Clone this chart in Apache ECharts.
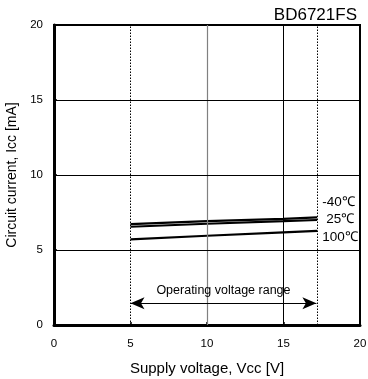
<!DOCTYPE html>
<html><head><meta charset="utf-8">
<script src="https://cdn.jsdelivr.net/npm/echarts@6/dist/echarts.min.js"></script>
<style>html,body{margin:0;padding:0;background:#fff}#c{width:368px;height:379px}</style>
</head><body><div id="c"></div>
<script>
const title = 'BD6721FS';
const xName = 'Supply voltage, Vcc [V]';
const yName = 'Circuit current, Icc [mA]';
const vcc = [5, 10, 15, 17.2];
const seriesNames = ['-40℃', '25℃', '100℃'];
const iccM40 = [6.73, 6.92, 7.08, 7.18];
const icc25 = [6.55, 6.75, 6.92, 7.0];
const icc100 = [5.71, 5.95, 6.17, 6.27];
const rangeMin = 5, rangeMax = 17.2, arrowY = 1.45;
const rangeText = 'Operating voltage range';
const hLines = [5, 10, 15];

const font = 'Liberation Sans, Arial, sans-serif';
const labelOffsets = [[2, -15], [6, -1], [2, 6]];
function mk(vals, i) {
  return {
    type: 'line', name: seriesNames[i], symbol: 'none', silent: true,
    lineStyle: { color: '#000', width: 2.2 },
    endLabel: {
      show: true, formatter: seriesNames[i], distance: 3,
      offset: labelOffsets[i], color: '#000', fontSize: 13.5, fontFamily: font
    },
    data: vals.map((v, k) => [vcc[k], v])
  };
}
const series = [mk(iccM40, 0), mk(icc25, 1), mk(icc100, 2)];
series.push({
  type: 'line', data: [], silent: true,
  markLine: {
    silent: true, symbol: 'none', animation: false, label: { show: false },
    data: [
      { xAxis: rangeMin, lineStyle: { color: '#000', type: [1.5, 1.5], width: 1 } },
      { xAxis: 10, lineStyle: { color: '#808080', type: 'solid', width: 1.2 } },
      { xAxis: 15, lineStyle: { color: '#000', type: 'solid', width: 1 } },
      { xAxis: rangeMax, lineStyle: { color: '#000', type: [1.5, 1.5], width: 1 } }
    ].concat(hLines.map(h => ({ yAxis: h, lineStyle: { color: '#000', type: 'solid', width: 1 } })))
  }
});
series.push({
  type: 'line', data: [], silent: true,
  markLine: {
    silent: true, animation: false, symbol: ['arrow', 'arrow'], symbolSize: [9, 14],
    lineStyle: { color: '#000', type: 'solid', width: 1.2 },
    label: { show: true, position: 'middle', formatter: rangeText, color: '#000', fontSize: 12.5, fontFamily: font, distance: 6 },
    data: [[{ coord: [rangeMin, arrowY] }, { coord: [rangeMax - 0.05, arrowY] }]]
  }
});

const chart = echarts.init(document.getElementById('c'), null, { renderer: 'canvas' });
chart.setOption({
  animation: false,
  backgroundColor: '#fff',
  title: { text: title, right: 6, top: 2, textStyle: { fontFamily: font, fontSize: 17, fontWeight: 'normal', color: '#000' } },
  grid: { left: 54, right: 8, top: 25, bottom: 54, outerBoundsMode: 'none', containLabel: false, show: true, borderColor: '#000', borderWidth: 2 },
  xAxis: {
    type: 'value', min: 0, max: 20, interval: 5,
    name: xName, nameLocation: 'middle', nameGap: 36,
    nameTextStyle: { fontFamily: font, fontSize: 15, color: '#000' },
    axisLine: { show: true, lineStyle: { color: '#000', width: 3 } },
    axisTick: { show: true, inside: true, length: 3, lineStyle: { color: '#000', width: 1.5 } },
    axisLabel: { fontFamily: font, fontSize: 11.5, color: '#000', margin: 13 },
    splitLine: { show: false }
  },
  yAxis: {
    type: 'value', min: 0, max: 20, interval: 5,
    name: yName, nameLocation: 'middle', nameGap: 28,
    nameTextStyle: { fontFamily: font, fontSize: 14, color: '#000' },
    axisLine: { show: true, lineStyle: { color: '#000', width: 3 } },
    axisTick: { show: true, inside: true, length: 3, lineStyle: { color: '#000', width: 1.5 } },
    axisLabel: { fontFamily: font, fontSize: 11.5, color: '#000', margin: 11 },
    splitLine: { show: false }
  },
  series: series
});
</script></body></html>
